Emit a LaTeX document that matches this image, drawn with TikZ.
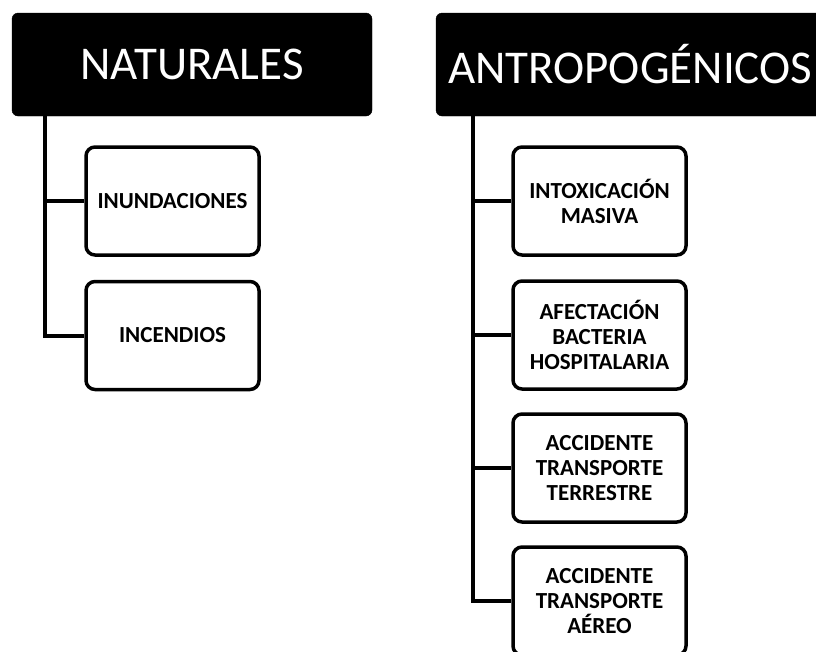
\documentclass[tikz,border=0pt]{standalone}
\usepackage{fontspec}
\setmainfont{Carlito}
\begin{document}
\begin{tikzpicture}[x=1pt,y=-1pt,
  title/.style={fill=black,draw=black,rounded corners=6pt,minimum width=360pt,minimum height=103pt,inner sep=0pt,text=white,font=\fontsize{47}{50}\selectfont},
  item/.style={draw=black,line width=3.5pt,rounded corners=9pt,fill=white,minimum width=173pt,minimum height=108pt,inner sep=0pt,align=center,font=\bfseries\fontsize{23}{25}\selectfont},
  conn/.style={line width=4pt}]
\useasboundingbox (0,0) rectangle (816,651);
\clip (0,0) rectangle (816,651);
\fill[white] (0,0) rectangle (816,651);
\node[title] (nat) at (192,64.5) {NATURALES};
\node[title,minimum width=400pt,text width=400pt,align=left,inner xsep=0pt] (ant) at (636,64.5) {\hspace*{12pt}ANTROPOGÉNICOS};
\node[item] (inu) at (172.5,201) {INUNDACIONES};
\node[item] (inc) at (172.5,335.5) {INCENDIOS};
\node[item] (int) at (599.5,201) {INTOXICACIÓN\\MASIVA};
\node[item] (afe) at (599.5,335) {AFECTACIÓN\\BACTERIA\\HOSPITALARIA};
\node[item] (ter) at (599.5,468) {ACCIDENTE\\TRANSPORTE\\TERRESTRE};
\node[item] (aer) at (599.5,601) {ACCIDENTE\\TRANSPORTE\\AÉREO};
\coordinate (nl) at (45,116);
\coordinate (al) at (473,116);
\draw[conn] (nl) |- (inc.west);
\draw[conn] (45,0 |- inu.west) -- (inu.west);
\draw[conn] (al) |- (aer.west);
\draw[conn] (473,0 |- int.west) -- (int.west);
\draw[conn] (473,0 |- afe.west) -- (afe.west);
\draw[conn] (473,0 |- ter.west) -- (ter.west);
\end{tikzpicture}
\end{document}
